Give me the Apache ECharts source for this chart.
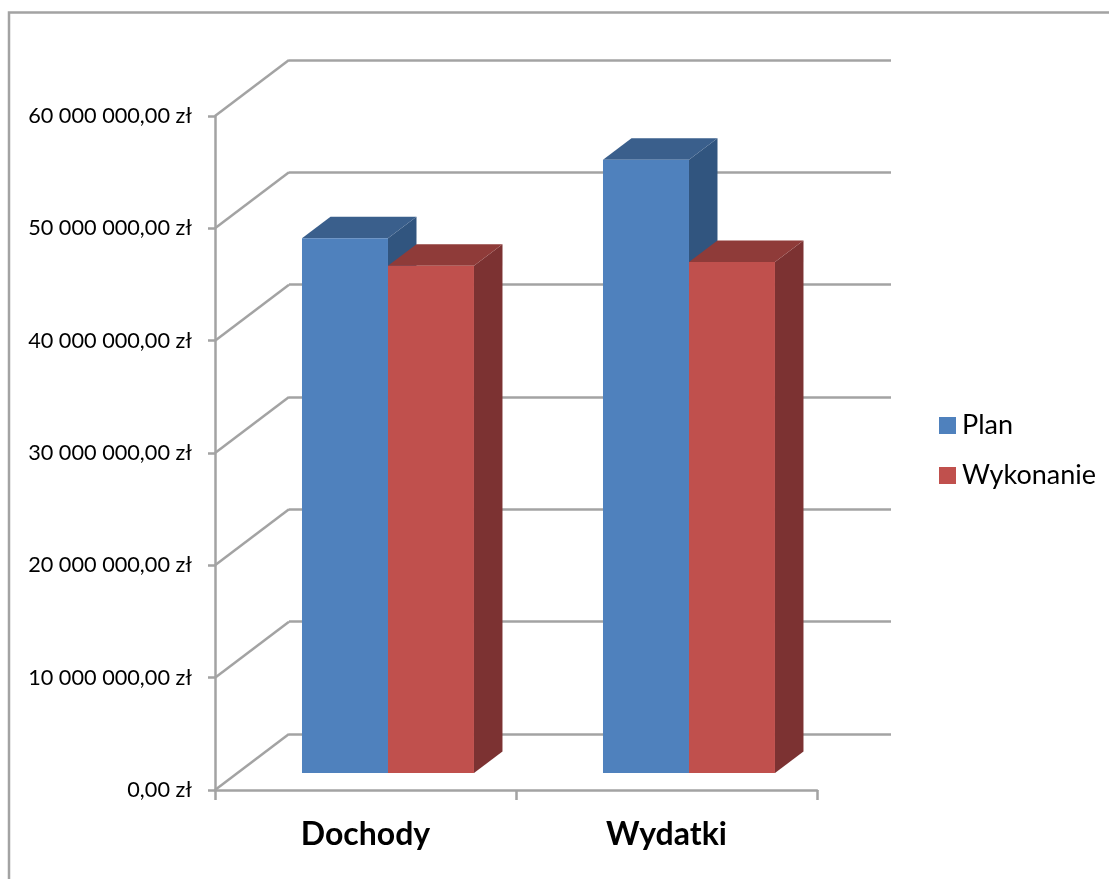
<!DOCTYPE html>
<html><head><meta charset="utf-8">
<style>html,body{margin:0;padding:0;background:#fff}#c{width:1109px;height:879px}</style>
<script src="https://cdn.jsdelivr.net/npm/echarts@6/dist/echarts.min.js"></script>
</head><body><div id="c"></div>
<script>
const categories = ['Dochody', 'Wydatki'];
const plan = [47600000, 54600000];
const wykonanie = [45150000, 45500000];
const yTicks = [0, 10000000, 20000000, 30000000, 40000000, 50000000, 60000000];
const yTickLabels = ['0,00 zł', '10 000 000,00 zł', '20 000 000,00 zł', '30 000 000,00 zł', '40 000 000,00 zł', '50 000 000,00 zł', '60 000 000,00 zł'];

const GREY = '#a3a3a3';
const LW = 2.5;
const FONT = 'Lato, "Open Sans", sans-serif';
const chart = echarts.init(document.getElementById('c'), null, {renderer: 'canvas'});

function barSeries(name, values, slot, front, top, side) {
  return {
    name, type: 'custom', xAxisIndex: 0, yAxisIndex: 0, z: 5,
    itemStyle: {color: front},
    data: values.map((v, i) => [i, v]),
    renderItem(params, api) {
      const base = api.coord([api.value(0), 0]);
      const head = api.coord([api.value(0), api.value(1)]);
      const band = api.size([1, 0])[0];
      const w = band * 0.2857;
      const x0 = base[0] - band * 0.211 + slot * w;
      const x1 = x0 + w;
      const yb = base[1] - 17, yt = head[1] - 17;
      const dx = 28.5, dy = 21.5;
      return {type: 'group', children: [
        {type: 'polygon', shape: {points: [[x1, yt], [x1 + dx, yt - dy], [x1 + dx, yb - dy], [x1, yb]]}, style: {fill: side}},
        {type: 'polygon', shape: {points: [[x0, yt], [x0 + dx, yt - dy], [x1 + dx, yt - dy], [x1, yt]]}, style: {fill: top}},
        {type: 'rect', shape: {x: x0, y: yt, width: w, height: yb - yt}, style: {fill: front}}
      ]};
    }
  };
}

chart.setOption({
  animation: false,
  backgroundColor: '#fff',
  graphic: [{type: 'polyline', silent: true, z: 0,
    shape: {points: [[9, 879], [9, 12.5], [1109, 12.5]]},
    style: {stroke: GREY, lineWidth: LW, fill: null}}],
  legend: {
    orient: 'vertical', left: 934, top: 407, icon: 'rect',
    itemWidth: 17, itemHeight: 17, itemGap: 23, selectedMode: false,
    data: ['Plan', 'Wykonanie'],
    textStyle: {fontFamily: FONT, fontSize: 27, color: '#000', padding: [0, 0, 0, 1]}
  },
  grid: [
    {left: 215, top: 116, width: 602, height: 674},
    {left: 289, top: 60, width: 602, height: 674}
  ],
  xAxis: [
    {type: 'category', gridIndex: 0, data: categories,
      axisLine: {lineStyle: {color: GREY, width: LW}},
      axisTick: {show: true, alignWithLabel: false, length: 10, lineStyle: {color: GREY, width: LW}},
      axisLabel: {margin: 29, fontFamily: FONT, fontSize: 32, fontWeight: 'bold', color: '#000'}},
    {type: 'category', gridIndex: 1, data: categories, show: false}
  ],
  yAxis: [
    {type: 'value', gridIndex: 0, min: 0, max: 60000000, interval: 10000000,
      axisLine: {show: true, lineStyle: {color: GREY, width: LW}},
      axisTick: {show: true, length: 7, lineStyle: {color: GREY, width: LW}},
      splitLine: {show: false},
      axisLabel: {margin: 23, fontFamily: FONT, fontSize: 21.7, color: '#000',
        formatter: v => yTickLabels[yTicks.indexOf(v)]}},
    {type: 'value', gridIndex: 1, min: 0, max: 60000000, interval: 10000000,
      axisLine: {show: false}, axisTick: {show: false}, axisLabel: {show: false},
      splitLine: {show: true, lineStyle: {color: GREY, width: LW}}}
  ],
  series: [
    {type: 'custom', xAxisIndex: 0, yAxisIndex: 0, z: 1, silent: true,
      data: yTicks.map(v => [0, v]),
      renderItem(params, api) {
        const p = api.coord([0, api.value(1)]);
        const x = params.coordSys.x;
        return {type: 'line', shape: {x1: x, y1: p[1], x2: x + 74, y2: p[1] - 56},
          style: {stroke: GREY, lineWidth: LW}};
      }},
    barSeries('Plan', plan, 0, '#4f81bd', '#3a5f8c', '#31557f'),
    barSeries('Wykonanie', wykonanie, 1, '#c0504d', '#8f3b39', '#7c3232')
  ]
});
</script></body></html>
